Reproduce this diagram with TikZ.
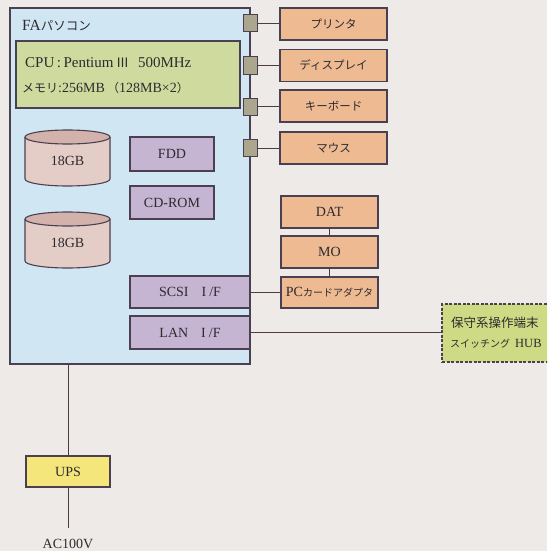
\documentclass[tikz,border=0pt]{standalone}
\usepackage{fontspec}
\setmainfont{Liberation Serif}
\newfontfamily\jp{Noto Sans CJK JP}
\definecolor{bgc}{HTML}{EEEAE7}
\definecolor{fablue}{HTML}{D0E7F3}
\definecolor{cpugreen}{HTML}{CFDB9E}
\definecolor{sqgray}{HTML}{ADA68F}
\definecolor{peach}{HTML}{EDBA92}
\definecolor{diskbody}{HTML}{E4CDC6}
\definecolor{disktop}{HTML}{D2B2AB}
\definecolor{lav}{HTML}{C6B4D3}
\definecolor{hubg}{HTML}{CEDB84}
\definecolor{upsy}{HTML}{F4E67A}
\definecolor{edgec}{HTML}{4A4052}
\definecolor{linec}{HTML}{4E3A46}
\definecolor{txt}{HTML}{2E2A30}
\begin{document}
\begin{tikzpicture}[x=1pt,y=-1pt,
  every node/.style={text=txt},
  boxbase/.style={draw=edgec,line width=1.1pt,inner sep=0pt,font=\fontsize{14}{16}\selectfont},
  pbox/.style={boxbase,fill=peach},
  jbox/.style={pbox,minimum width=107pt,minimum height=32pt,font=\jp\fontsize{11.5}{14}\selectfont},
  lbox/.style={boxbase,fill=lav},
  sqbox/.style={draw=edgec,line width=1pt,fill=sqgray,minimum width=14pt,minimum height=17pt,inner sep=0pt},
  conn/.style={draw=linec,line width=1pt},
  lbl/.style={inner sep=0pt}]
\useasboundingbox (0,0) rectangle (547,551);
\clip (0,0) rectangle (547,551);
\fill[bgc] (0,0) rectangle (547,551);

% main PC box
\node[draw=edgec,line width=1.2pt,fill=fablue,minimum width=240pt,minimum height=356pt,inner sep=0pt] (fa) at (130,186) {};
\node[lbl,anchor=west,font=\fontsize{15.5}{18}\selectfont] (title) at (22,26) {FA{\jp\fontsize{12.5}{14}\selectfont パソコン}};

% CPU box
\node[draw=edgec,line width=1.1pt,fill=cpugreen,minimum width=224pt,minimum height=67pt,inner sep=0pt] (cpu) at (128,74.5) {};
\node[lbl,anchor=west,font=\fontsize{15}{17}\selectfont] (cpu1) at (25,63) {CPU\,:\,Pentium\,{\jp\fontsize{13}{15}\selectfont Ⅲ}\hspace{9pt}500MHz};
\node[lbl,anchor=west,font=\fontsize{14}{15}\selectfont] (cpu2) at (22,87.5) {{\jp\fontsize{12}{14}\selectfont メモリ}:256MB\,{\jp\fontsize{12}{14}\selectfont （}128MB×2{\jp\fontsize{12}{14}\selectfont ）}};

% disks
\foreach \n/\cy in {disk1/158,disk2/240}{
  \fill[diskbody] (25,\cy-21) -- (25,\cy+21) arc[start angle=180,end angle=0,x radius=42.5,y radius=7] -- (110,\cy-21) -- cycle;
  \draw[edgec,line width=1.1pt] (25,\cy-21) -- (25,\cy+21) arc[start angle=180,end angle=0,x radius=42.5,y radius=7] -- (110,\cy-21);
  \draw[edgec,line width=1.1pt,fill=disktop] (67.5,\cy-21) ellipse[x radius=42.5,y radius=7];
  \node[lbl,font=\fontsize{14}{16}\selectfont] (\n) at (67.5,\cy+3) {18GB};
}

% internal devices
\node[lbox,minimum width=84pt,minimum height=34pt] (fdd) at (172,154) {FDD};
\node[lbox,minimum width=84pt,minimum height=33pt] (cdrom) at (172,202.5) {CD-ROM};
\node[lbox,minimum width=120pt,minimum height=32pt] (scsi) at (190,292) {SCSI\hspace{13pt}I\hspace{3pt}/F};
\node[lbox,minimum width=120pt,minimum height=33pt] (lan) at (190,332.5) {LAN\hspace{13pt}I\hspace{3pt}/F};

% ports and peripherals
\node[sqbox] (sq1) at (250.5,23.5) {};
\node[sqbox] (sq2) at (250.5,65.5) {};
\node[sqbox] (sq3) at (250.5,106.5) {};
\node[sqbox] (sq4) at (250.5,148) {};
\node[jbox] (p1) at (333.5,24) {プリンタ};
\node[jbox] (p2) at (333.5,65.5) {ディスプレイ};
\node[jbox] (p3) at (333.5,106) {キーボード};
\node[jbox] (p4) at (333.5,148) {マウス};
\foreach \i in {1,...,4}{\draw[conn] (sq\i.east) -- (sq\i.east -| p\i.west);}

% storage chain
\node[pbox,minimum width=97pt,minimum height=32pt] (dat) at (329.5,212) {DAT};
\node[pbox,minimum width=97pt,minimum height=32pt] (mo) at (329.5,252) {MO};
\node[pbox,minimum width=97pt,minimum height=31pt] (pc) at (329.5,292.5) {PC{\jp\fontsize{10}{12}\selectfont カードアダプタ}};
\draw[conn] (dat.south) -- (mo.north);
\draw[conn] (mo.south) -- (pc.north);
\draw[conn] (scsi.east) -- (scsi.east -| pc.west);

% hub
\node[draw=edgec,line width=1.1pt,dash pattern=on 3pt off 1.5pt,fill=hubg,minimum width=120pt,minimum height=58pt,inner sep=0pt] (hub) at (502,333) {};
\node[lbl,anchor=west,font=\jp\fontsize{12.5}{14}\selectfont] (hub1) at (451,323) {保守系操作端末};
\node[lbl,anchor=west,font=\jp\fontsize{10}{12}\selectfont] (hub2) at (450,344) {スイッチング\hspace{5pt}{\rmfamily\fontsize{12.5}{16}\selectfont HUB}};
\draw[conn] (lan.east) -- (lan.east -| hub.west);

% power
\node[draw=edgec,line width=1.1pt,fill=upsy,minimum width=84pt,minimum height=31pt,inner sep=0pt,font=\fontsize{14}{16}\selectfont] (ups) at (68,471.5) {UPS};
\node[lbl,font=\fontsize{14}{16}\selectfont] (ac) at (68,544) {AC100V};
\coordinate (acend) at (68,528);
\draw[conn] (fa.south -| ups.north) -- (ups.north);
\draw[conn] (ups.south) -- (acend);
\end{tikzpicture}
\end{document}
